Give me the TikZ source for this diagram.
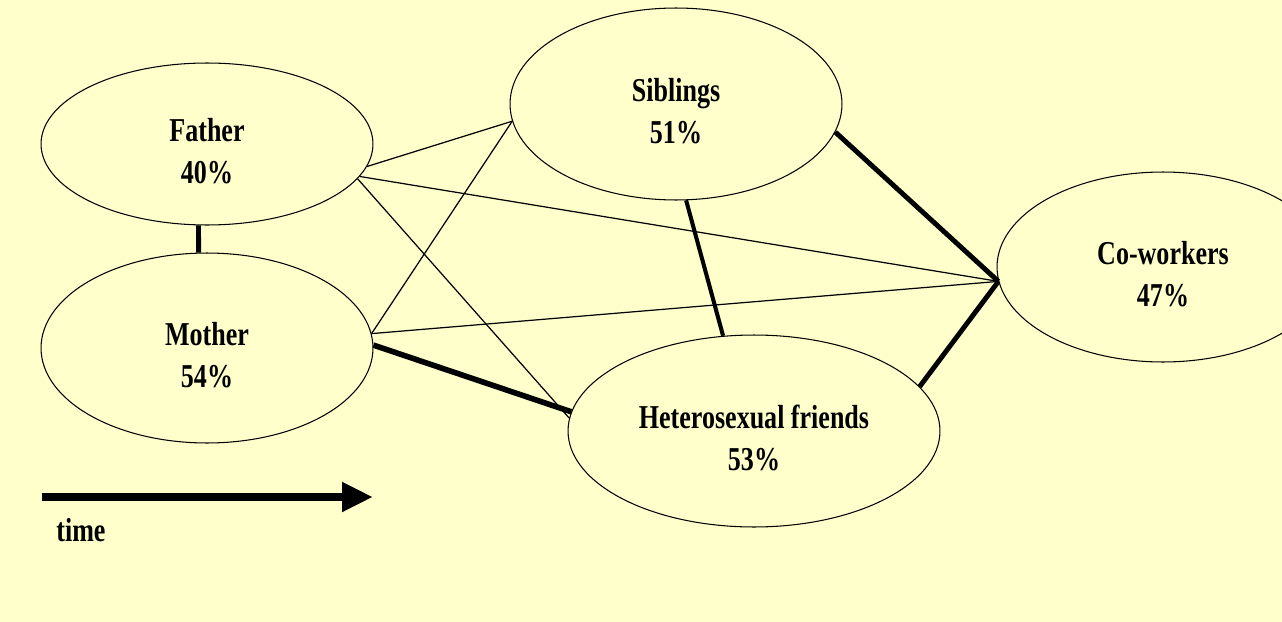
\documentclass[tikz,border=0pt]{standalone}
\usepackage{fontspec}
\setmainfont{Liberation Serif}[FakeStretch=0.78]
\usepackage{tikz}
\usetikzlibrary{shapes.geometric,arrows.meta}
\definecolor{paper}{RGB}{255,255,204}
\tikzstyle{group} = [ellipse, draw, line width=0.6pt, inner sep=0pt, align=center,
    minimum width=6.64cm, minimum height=3.8cm, font=\fontsize{19}{24}\selectfont\bfseries]
\tikzstyle{tie} = [draw, line width=0.7pt]
\tikzstyle{strongtie} = [draw, line width=2.8pt]
\newcommand{\toprule}{\rule{0pt}{21pt}}

\begin{document}
\begin{tikzpicture}[x=0.02cm, y=-0.02cm]
    \fill [paper] (0,0) rectangle (1282,622);
    \useasboundingbox (0,0) rectangle (1282,622);
    \clip (0,0) rectangle (1282,622);
    % Place nodes
    \node [group, minimum height=3.24cm] (father) at (207,144) {\toprule Father\\40\%};
    \node [group] (mother) at (207,348) {\toprule Mother\\54\%};
    \node [group, minimum height=3.84cm] (siblings) at (676,104) {\toprule Siblings\\51\%};
    \node [group, minimum width=7.44cm, minimum height=3.84cm] (friends) at (754,431) {\toprule Heterosexual friends\\53\%};
    \node [group] (coworkers) at (1163,267) {\toprule Co-workers\\47\%};
    \coordinate (tstart) at (42,497);
    \coordinate (tend) at (373,497);
    \node [anchor=west, inner sep=0pt, font=\fontsize{19}{24}\selectfont\bfseries] (timelbl) at (56,530) {time};

    % Draw edges
    \path [strongtie] (father.264) -- (mother.95);
    \path [tie] (father.-8) -- (siblings.186);
    \path [tie] (father.-12) -- (coworkers.185);
    \path [tie] (father.-13) -- (friends.176);
    \path [tie] (mother.5) -- (siblings.186);
    \path [tie] (mother.5) -- (coworkers.185);
    \path [strongtie, line width=3.2pt] (mother.1) -- (friends.174);
    \path [strongtie, line width=2.3pt] (siblings.-84) -- (friends.108);
    \path [strongtie] (siblings.-10) -- (coworkers.185);
    \path [strongtie] (friends.15) -- (coworkers.185);
    \path [draw, line width=4.5pt, -{Triangle[length=0.62cm, width=0.56cm]}] (tstart) -- (tend);
\end{tikzpicture}
\end{document}
